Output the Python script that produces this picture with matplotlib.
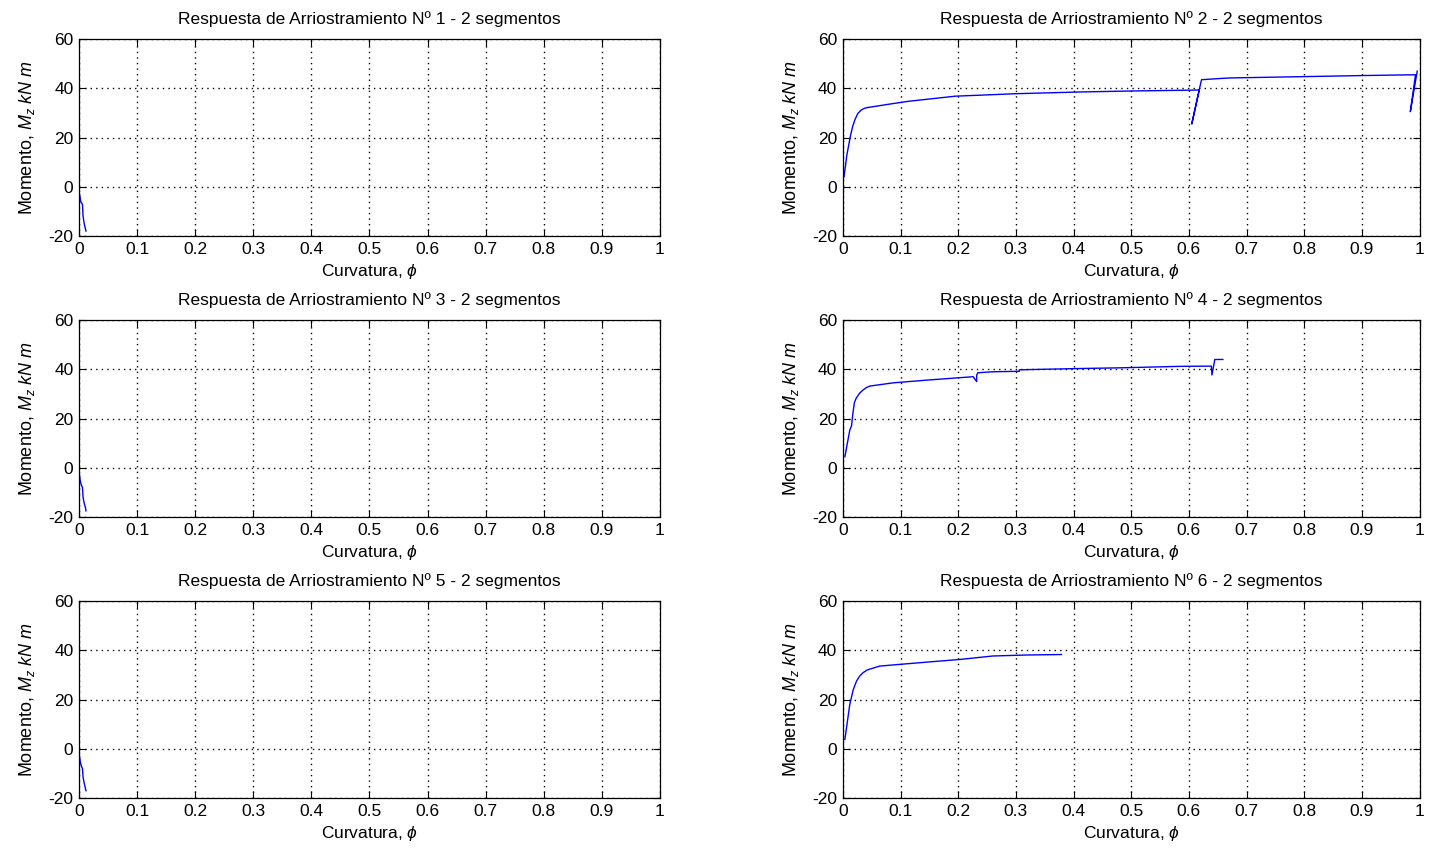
import matplotlib.pyplot as plt
from matplotlib.ticker import FuncFormatter

plt.rcParams['font.family'] = ['Liberation Sans', 'DejaVu Sans']
plt.rcParams['mathtext.fontset'] = 'custom'
plt.rcParams['mathtext.rm'] = 'Liberation Sans'
plt.rcParams['mathtext.it'] = 'Liberation Sans:italic'
plt.rcParams['axes.unicode_minus'] = False

# curvature / moment, one pair per brace
x1 = [0.001, 0.002, 0.003, 0.005, 0.006, 0.007, 0.009, 0.011, 0.012]
y1 = [-3.0, -4.5, -6.0, -6.8, -7.2, -12.0, -15.0, -17.0, -18.0]

x2 = [0.002, 0.007, 0.013, 0.017, 0.021, 0.026, 0.032, 0.038, 0.043, 0.06,
      0.076, 0.113, 0.195, 0.30, 0.41, 0.50,
      0.618, 0.605, 0.619, 0.622, 0.67, 0.766, 0.907, 0.993, 0.984, 0.996]
y2 = [4.0, 13.0, 20.5, 24.5, 27.3, 29.8, 31.2, 31.9, 32.2, 32.8,
      33.4, 34.7, 36.8, 37.8, 38.5, 38.9,
      39.3, 25.5, 40.5, 43.5, 44.2, 44.6, 45.2, 45.5, 30.5, 47.0]

x3 = [0.001, 0.002, 0.004, 0.006, 0.007, 0.009, 0.011, 0.012]
y3 = [-3.0, -5.0, -7.0, -8.0, -12.0, -14.5, -16.0, -17.5]

x4 = [0.0035, 0.012, 0.015, 0.0174, 0.020, 0.023, 0.029, 0.035, 0.041, 0.047,
      0.087, 0.145,
      0.226, 0.232, 0.232, 0.234, 0.26, 0.306, 0.306, 0.405, 0.48, 0.584,
      0.639, 0.640, 0.645, 0.659]
y4 = [4.5, 15.3, 17.0, 22.1, 26.5, 28.2, 30.3, 31.6, 32.6, 33.2,
      34.5, 35.6,
      37.0, 35.0, 37.5, 38.6, 39.0, 39.2, 39.8, 40.3, 40.6, 41.2,
      41.3, 37.7, 44.0, 44.0]

x5 = [0.001, 0.002, 0.004, 0.006, 0.007, 0.009, 0.011, 0.012]
y5 = [-3.0, -5.0, -7.0, -8.0, -11.5, -14.0, -16.0, -17.0]

x6 = [0.0035, 0.012, 0.018, 0.0237, 0.029, 0.035, 0.042, 0.050, 0.064, 0.099,
      0.145, 0.203, 0.26, 0.318, 0.379]
y6 = [3.8, 18.0, 24.0, 27.5, 29.5, 30.9, 32.0, 32.6, 33.6, 34.3,
      35.2, 36.3, 37.7, 38.1, 38.3]

curves = [(x1, y1), (x2, y2), (x3, y3), (x4, y4), (x5, y5), (x6, y6)]

fig = plt.figure(figsize=(14.31, 8.49), dpi=100)

lefts = [0.0552, 0.589]
widths = [0.406, 0.403]
bottoms = [0.722, 0.391, 0.060]
height = 0.232

for i, (xs, ys) in enumerate(curves):
    row, col = i // 2, i % 2
    ax = fig.add_axes([lefts[col], bottoms[row], widths[col], height])
    ax.plot(xs, ys, color='#0000ff', linewidth=1)
    ax.set_xlim(0, 1)
    ax.set_ylim(-20, 60)
    ax.set_xticks([0, 0.1, 0.2, 0.3, 0.4, 0.5, 0.6, 0.7, 0.8, 0.9, 1])
    ax.set_yticks([-20, 0, 20, 40, 60])
    ax.xaxis.set_major_formatter(FuncFormatter(lambda v, p: '%g' % v))
    ax.grid(True, linestyle=(0, (1, 3)), color='black', linewidth=1)
    ax.tick_params(direction='in', top=True, right=True, labelsize=12.5,
                   length=5, pad=4)
    for s in ax.spines.values():
        s.set_linewidth(0.9)
    ax.set_title('Respuesta de Arriostramiento N\u00ba %d - 2 segmentos' % (i + 1),
                 fontsize=12.5, pad=11)
    ax.set_xlabel(r'Curvatura, $\phi$', fontsize=12.5, labelpad=4)
    ax.set_ylabel(r'Momento, $M_z$ $kN$ $m$', fontsize=13, labelpad=8)

fig.savefig('out.png', dpi=100, facecolor='white')
